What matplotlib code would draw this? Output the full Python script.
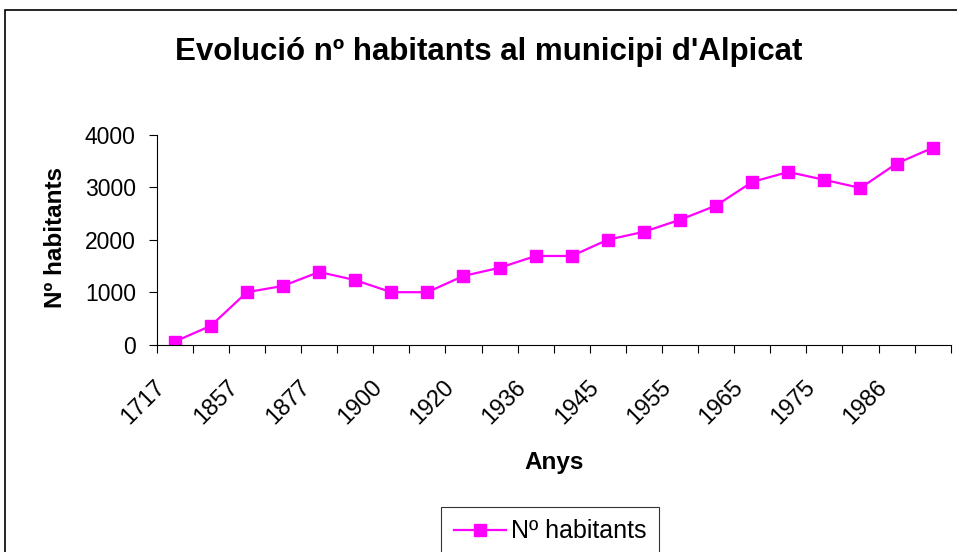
import matplotlib
matplotlib.use("Agg")
import matplotlib.pyplot as plt
import matplotlib.transforms as mtransforms
from matplotlib.patches import Rectangle

plt.rcParams['font.family'] = ['Liberation Sans', 'DejaVu Sans']

# census years (every other one is shown on the axis)
years = ["1717", "1787", "1857", "1860", "1877", "1887", "1900", "1910",
         "1920", "1930", "1936", "1940", "1945", "1950", "1955", "1960",
         "1965", "1970", "1975", "1981", "1986", "1991"]
habitants = [60, 360, 1000, 1120, 1385, 1230, 1000, 1000, 1310, 1465, 1690,
             1690, 2000, 2150, 2380, 2650, 3100, 3290, 3140, 2985, 3450, 3750]
y_ticks = [0, 1000, 2000, 3000, 4000]

W, H = 957, 552
fig = plt.figure(figsize=(W / 100, H / 100), dpi=100)

# outer chart frame
fig.patches.append(Rectangle((5 / W, -0.05), 1.1, 1 - 10 / H + 0.05,
                             transform=fig.transFigure, fill=False,
                             edgecolor='black', linewidth=1.2, clip_on=False))

ax = fig.add_axes([156.7 / W, 1 - 344.7 / H, 794 / W, 210 / H])
x = list(range(len(years)))
ax.plot(x, habitants, color='#FF00FF', linewidth=1.6, marker='s',
        markersize=8.7, label="Nº habitants")

ax.set_xlim(-0.5, len(years) - 0.5)
ax.set_ylim(0, 4000)
ax.set_yticks(y_ticks)
ax.tick_params(axis='y', direction='out', length=6, width=0.8, pad=9,
               labelsize=16.5, colors='black')

# ticks between categories, labels at category centres
ax.set_xticks([i - 0.5 for i in range(len(years) + 1)])
ax.set_xticklabels([])
ax.tick_params(axis='x', which='major', direction='out', length=6, width=0.8)
ax.set_xticks(x, minor=True)
ax.set_xticklabels([y if i % 2 == 0 else "" for i, y in enumerate(years)],
                   minor=True, rotation=45, ha='right', va='center',
                   rotation_mode='anchor', fontsize=16.8)
ax.tick_params(axis='x', which='minor', length=0, pad=28)
offset = mtransforms.ScaledTranslation(-13 / 100, 0, fig.dpi_scale_trans)
for lab in ax.get_xticklabels(minor=True):
    lab.set_transform(lab.get_transform() + offset)

for s in ['top', 'right']:
    ax.spines[s].set_visible(False)
for s in ['left', 'bottom']:
    ax.spines[s].set_linewidth(0.8)
    ax.spines[s].set_color('black')

fig.text(489 / W, 1 - 52 / H, "Evolució nº habitants al municipi d'Alpicat",
         ha='center', va='center', fontsize=22.5, fontweight='bold')
fig.text(55 / W, 1 - 237 / H, "Nº habitants", rotation=90, ha='center',
         va='center', fontsize=17.5, fontweight='bold')
fig.text(554 / W, 1 - 463 / H, "Anys", ha='center', va='center',
         fontsize=17.5, fontweight='bold')

leg = fig.legend(loc='upper left', bbox_to_anchor=(441 / W, 1 - 507 / H),
                 fontsize=18, frameon=True, fancybox=False, shadow=False,
                 handlelength=2.1, handletextpad=0.2, borderpad=0.5,
                 borderaxespad=0)
leg.get_frame().set_edgecolor('black')
leg.get_frame().set_linewidth(0.8)

fig.savefig("out.png", dpi=100)
